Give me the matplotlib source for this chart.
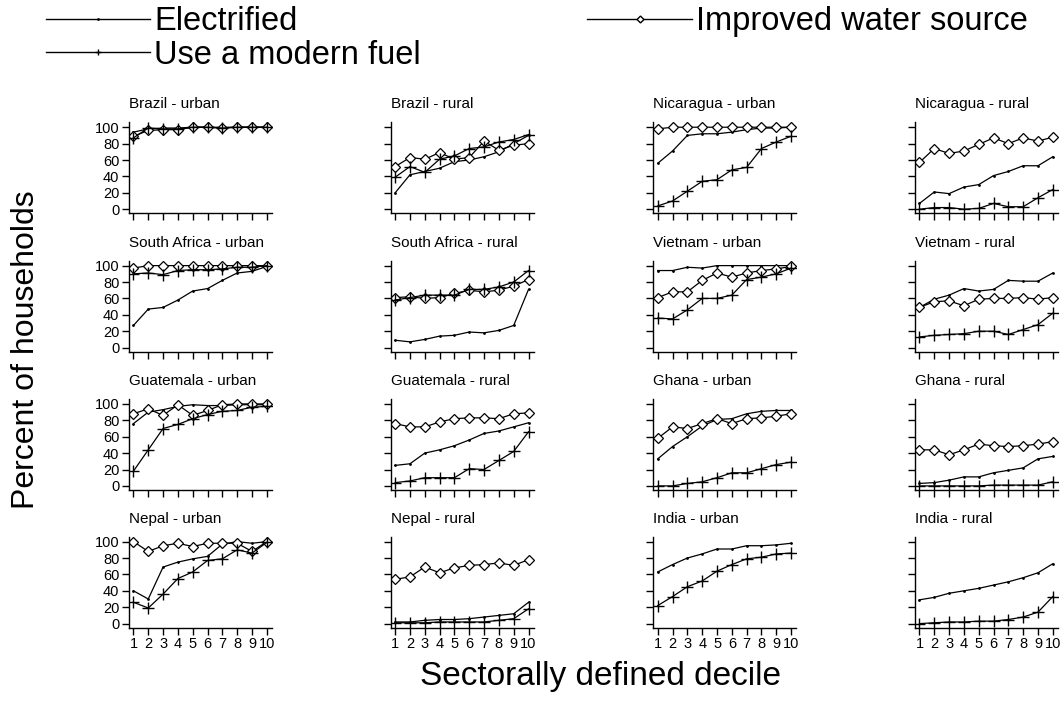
import numpy as np
import matplotlib
matplotlib.use("Agg")
import matplotlib.pyplot as plt
from matplotlib.lines import Line2D

plt.rcParams['font.family'] = ['Liberation Sans', 'DejaVu Sans']

deciles = [1, 2, 3, 4, 5, 6, 7, 8, 9, 10]
y_ticks = [0, 20, 40, 60, 80, 100]

panel_titles = [
    "Brazil - urban", "Brazil - rural", "Nicaragua - urban", "Nicaragua - rural",
    "South Africa - urban", "South Africa - rural", "Vietnam - urban", "Vietnam - rural",
    "Guatemala - urban", "Guatemala - rural", "Ghana - urban", "Ghana - rural",
    "Nepal - urban", "Nepal - rural", "India - urban", "India - rural",
]

# percent of households, one row per panel (same order as panel_titles)
electrified = [
    [94, 98, 99, 99, 100, 100, 100, 100, 100, 100],
    [20, 42, 46, 50, 58, 60, 64, 70, 80, 90],
    [56, 71, 90, 92, 92, 94, 97, 99, 99, 100],
    [7, 21, 19, 27, 30, 41, 46, 53, 53, 64],
    [27, 47, 49, 58, 69, 72, 82, 91, 93, 99],
    [9, 7, 10, 14, 15, 19, 18, 21, 27, 71],
    [94, 94, 98, 97, 100, 100, 100, 100, 100, 100],
    [49, 59, 64, 72, 69, 71, 82, 81, 81, 91],
    [76, 90, 93, 97, 99, 98, 98, 99, 99, 99],
    [25, 27, 40, 44, 49, 56, 64, 67, 72, 77],
    [33, 48, 60, 73, 81, 82, 88, 91, 92, 92],
    [3, 4, 7, 11, 11, 16, 19, 22, 33, 36],
    [40, 30, 69, 75, 79, 82, 97, 100, 98, 100],
    [2, 2, 4, 5, 5, 6, 8, 10, 12, 26],
    [63, 72, 80, 85, 91, 91, 95, 95, 96, 98],
    [29, 32, 37, 40, 43, 47, 51, 56, 62, 73],
]

modern_fuel = [
    [87, 99, 98, 98, 100, 100, 99, 100, 100, 100],
    [39, 52, 45, 61, 65, 74, 76, 82, 85, 91],
    [4, 10, 22, 34, 36, 48, 51, 74, 82, 89],
    [0, 2, 2, 0, 1, 7, 3, 3, 14, 24],
    [90, 91, 89, 94, 95, 95, 96, 98, 98, 100],
    [58, 61, 64, 64, 64, 71, 71, 74, 80, 94],
    [36, 35, 46, 60, 60, 64, 83, 86, 90, 97],
    [13, 15, 16, 17, 20, 20, 16, 22, 28, 42],
    [18, 44, 70, 75, 82, 87, 91, 92, 96, 97],
    [4, 6, 10, 10, 10, 21, 20, 31, 42, 66],
    [0, 0, 3, 5, 10, 16, 16, 21, 26, 29],
    [0, 0, 0, 0, 0, 1, 1, 1, 1, 5],
    [26, 19, 36, 55, 63, 77, 79, 90, 86, 99],
    [1, 1, 1, 2, 2, 2, 2, 4, 6, 18],
    [22, 33, 45, 52, 64, 72, 79, 81, 85, 86],
    [0, 1, 2, 2, 3, 3, 5, 8, 14, 33],
]

water_source = [
    [89, 96, 97, 97, 100, 100, 99, 100, 100, 100],
    [52, 63, 61, 69, 61, 63, 83, 72, 78, 80],
    [98, 100, 100, 100, 100, 100, 100, 100, 100, 100],
    [57, 74, 68, 71, 79, 87, 80, 87, 83, 88],
    [97, 100, 100, 100, 100, 100, 100, 100, 100, 100],
    [61, 62, 60, 61, 66, 70, 68, 70, 75, 83],
    [61, 68, 68, 82, 91, 86, 91, 94, 96, 99],
    [49, 56, 57, 51, 59, 60, 60, 61, 59, 61],
    [88, 94, 86, 99, 86, 92, 99, 100, 100, 100],
    [76, 72, 72, 78, 82, 83, 83, 82, 88, 89],
    [58, 72, 70, 76, 82, 76, 82, 83, 85, 88],
    [44, 44, 38, 44, 51, 49, 48, 49, 51, 54],
    [100, 88, 95, 98, 94, 98, 98, 98, 88, 100],
    [54, 57, 69, 62, 68, 71, 72, 74, 71, 78],
    None,
    None,
]

fig = plt.figure(figsize=(10.6, 7.04), dpi=100)
W, H = 1060, 704
col_left = [129, 390.7, 653.3, 915]
row_top = [122.3, 260.7, 399, 536.7]
ax_w, ax_h = 143, 91

lw = 0.9
for i, title in enumerate(panel_titles):
    r, c = divmod(i, 4)
    ax = fig.add_axes([col_left[c] / W, 1 - (row_top[r] + ax_h) / H, ax_w / W, ax_h / H])
    ax.plot(deciles, electrified[i], color='black', lw=lw, marker='.', ms=2)
    if water_source[i] is not None:
        ax.plot(deciles, water_source[i], color='black', lw=lw, marker='D', ms=5.5,
                mfc='white', mec='black', mew=0.9)
    ax.plot(deciles, modern_fuel[i], color='black', lw=lw, marker='+', ms=9, mew=1.0)
    ax.set_xlim(0.7, 10.35)
    ax.set_ylim(-5, 106)
    ax.set_xticks(deciles)
    ax.set_yticks(y_ticks)
    for s in ['top', 'right']:
        ax.spines[s].set_visible(False)
    for s in ['left', 'bottom']:
        ax.spines[s].set_linewidth(1.0)
    ax.tick_params(direction='out', length=5, width=1.0, labelsize=10.5, pad=2)
    if r != 3:
        ax.set_xticklabels([])
    if c != 0:
        ax.set_yticklabels([])
    ax.text(0, 1.12, title, transform=ax.transAxes, fontsize=11, ha='left', va='bottom')

fig.text(26 / W, 1 - 350 / H, "Percent of households", rotation=90, fontsize=23,
         ha='center', va='center')
fig.text(600 / W, 1 - 676 / H, "Sectorally defined decile", fontsize=24,
         ha='center', va='center')

handles = [
    Line2D([], [], color='black', lw=1, marker='.', ms=2),
    Line2D([], [], color='black', lw=1, marker='+', ms=5),
    Line2D([], [], color='black', lw=1, marker='D', ms=3.5, mfc='white'),
]
labels = ["Electrified", "Use a modern fuel", "Improved water source"]
fig.legend(handles, labels, loc='upper left', bbox_to_anchor=(46 / W, 1 - 6 / H),
           ncol=2, frameon=False, fontsize=23.5, handlelength=3.2, handletextpad=0.12,
           columnspacing=5.1, labelspacing=0.08, borderpad=0, borderaxespad=0)

fig.savefig("out.png", dpi=100)
